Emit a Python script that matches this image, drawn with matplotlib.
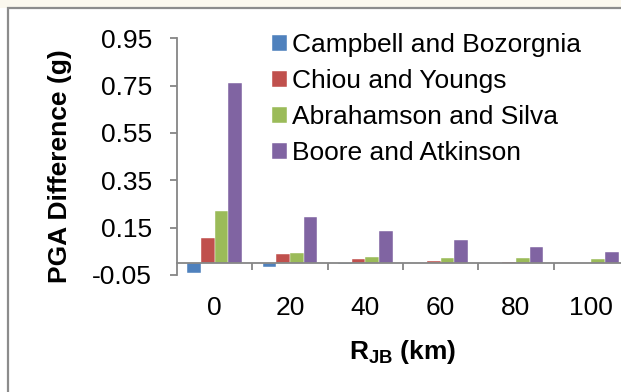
import matplotlib
matplotlib.use('Agg')
import matplotlib.pyplot as plt
import numpy as np
from matplotlib.patches import Rectangle

# data
distances = ['0', '20', '40', '60', '80', '100']
campbell = [-0.04, -0.017, -0.002, -0.001, 0.001, 0.001]
chiou = [0.107, 0.04, 0.016, 0.011, 0.007, 0.002]
abrahamson = [0.22, 0.042, 0.028, 0.023, 0.02, 0.018]
boore = [0.76, 0.197, 0.137, 0.096, 0.069, 0.048]
series_names = ['Campbell and Bozorgnia', 'Chiou and Youngs',
                'Abrahamson and Silva', 'Boore and Atkinson']
y_ticks = [-0.05, 0.15, 0.35, 0.55, 0.75, 0.95]

plt.rcParams['font.family'] = ['Liberation Sans', 'DejaVu Sans']
plt.rcParams['mathtext.fontset'] = 'custom'
plt.rcParams['mathtext.rm'] = 'Liberation Sans'
plt.rcParams['mathtext.bf'] = 'Liberation Sans:bold'

W, H = 621, 392
fs = 19
fig = plt.figure(figsize=(W / 100, H / 100), dpi=100)
fig.patch.set_facecolor('white')

# chart area frame (Excel style), cropped at right and bottom
fig.patches.append(Rectangle((0, 1 - 8 / H), 1, 8 / H, transform=fig.transFigure,
                             facecolor='#fbf8ee', edgecolor='none', zorder=-2))
fig.patches.append(Rectangle((7.5 / W, -0.1), 1.2, 1.1 - 8.5 / H,
                             transform=fig.transFigure, facecolor='white',
                             edgecolor='#8c8c8c', linewidth=1.6, zorder=-1))

ax = fig.add_axes([177 / W, 1 - 275 / H, 452 / W, 236.7 / H])
ax.set_facecolor('none')

x = np.arange(len(distances))
width = 0.181
colors = ['#4F81BD', '#C0504D', '#9BBB59', '#8064A2']
for i, (vals, name) in enumerate(zip([campbell, chiou, abrahamson, boore], series_names)):
    ax.bar(x + (i - 1.5) * width, vals, width, label=name, color=colors[i],
           edgecolor='white', linewidth=0.3, zorder=2)

ax.set_xlim(-0.5, 5.5)
ax.set_ylim(-0.05, 0.95)
ax.set_yticks(y_ticks)
ax.set_yticklabels([f'{v:.2f}' for v in y_ticks])
ax.set_xticks(x)
ax.set_xticklabels(distances)

axis_color = '#868686'
ax.spines['top'].set_visible(False)
ax.spines['right'].set_visible(False)
ax.spines['bottom'].set_position(('data', 0))
ax.spines['left'].set_color(axis_color)
ax.spines['bottom'].set_color(axis_color)
ax.spines['left'].set_linewidth(1.3)
ax.spines['bottom'].set_linewidth(1.3)
ax.spines['bottom'].set_zorder(3)

ax.tick_params(axis='y', direction='out', length=5, width=1.3, color=axis_color,
               labelsize=fs, pad=13)
ax.tick_params(axis='x', length=0, labelsize=fs, pad=24)

# small tick marks between categories, hanging below the zero line
boundaries = x[:-1] + 0.5
ax.vlines(boundaries, 0, -0.03, color=axis_color, linewidth=1.3,
          clip_on=False, zorder=3)

ax.set_xlabel(r'$\mathbf{R_{JB}}$ (km)', fontsize=fs, fontweight='bold')
ax.xaxis.set_label_coords(0.5, -(352 - 275) / 236.7)
ax.xaxis.label.set_va('center')
ax.set_ylabel('PGA Difference (g)', fontsize=fs, fontweight='bold')
ax.yaxis.set_label_coords((60 - 177) / 452, (275 - 166) / 236.7)
ax.yaxis.label.set_va('center')

leg = ax.legend(loc='upper left', bbox_to_anchor=(272 / W, 1 - 33 / H),
                bbox_transform=fig.transFigure, frameon=False, fontsize=fs,
                handlelength=0.55, handleheight=0.55, handletextpad=0.2,
                labelspacing=0.455, borderpad=0, borderaxespad=0)

fig.savefig('out.png', dpi=100)
